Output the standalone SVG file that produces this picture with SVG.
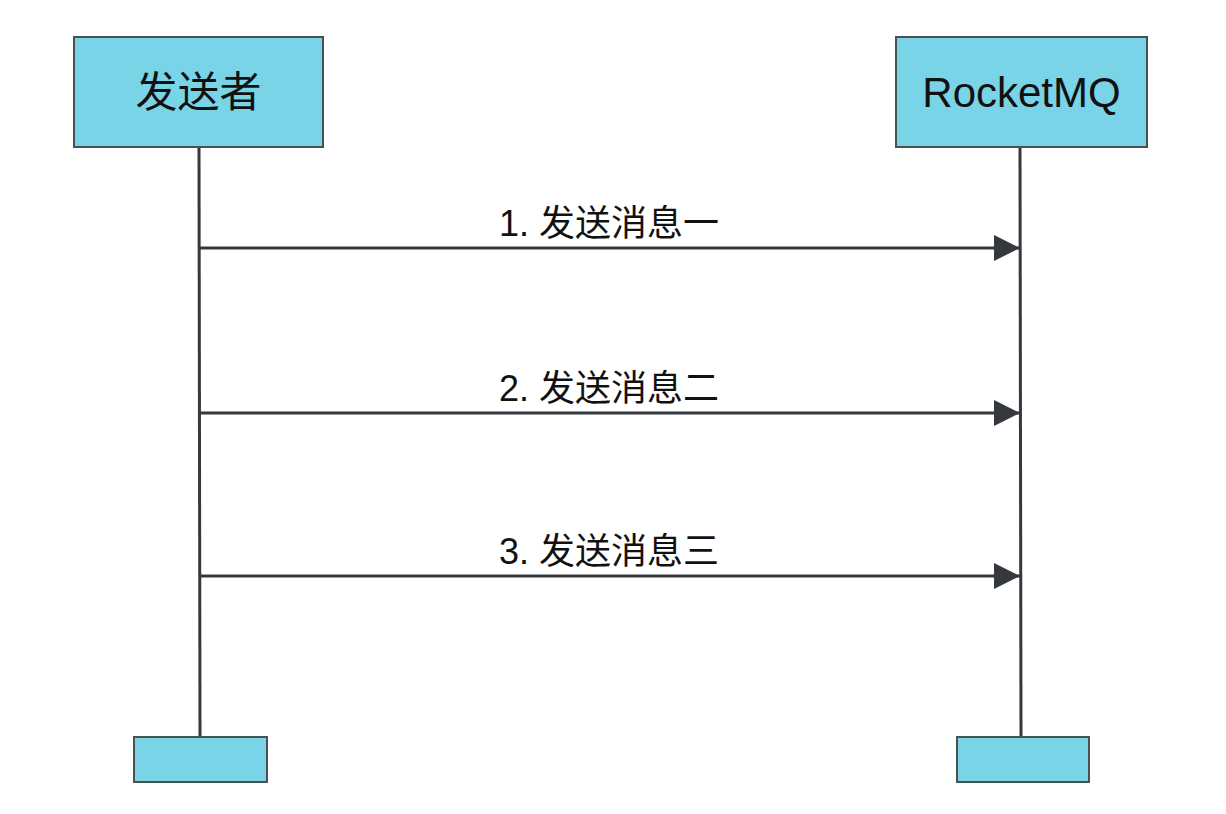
<svg xmlns="http://www.w3.org/2000/svg" width="1226" height="814" viewBox="0 0 1226 814">
<style>
.box{fill:#7AD4E8;stroke:#4B5055;stroke-width:2}
.life{stroke:#35393E;stroke-width:3;fill:none}
.msg{stroke:#35393E;stroke-width:3;fill:none}
.title{font-family:"Liberation Sans","Noto Sans CJK SC",sans-serif;font-size:42px;fill:#111;text-anchor:middle}
.lbl{font-family:"Liberation Sans","Noto Sans CJK SC",sans-serif;font-size:36px;fill:#111;text-anchor:middle}
</style>
<defs>
<marker id="ah" markerWidth="26" markerHeight="26" viewBox="0 0 26 26" refX="26" refY="13" orient="auto" markerUnits="userSpaceOnUse">
<path d="M0,0 L26,13 L0,26 Z" fill="#35393E"/>
</marker>
</defs>
<rect width="1226" height="814" fill="#fff"/>
<g id="connectors">
<line class="life" x1="199" y1="147" x2="200" y2="737"/>
<line class="life" x1="1020" y1="147" x2="1021" y2="737"/>
<line class="msg" x1="199" y1="248" x2="1020" y2="248" marker-end="url(#ah)"/>
<line class="msg" x1="199" y1="413" x2="1020" y2="413" marker-end="url(#ah)"/>
<line class="msg" x1="199" y1="576" x2="1020" y2="576" marker-end="url(#ah)"/>
<text class="lbl" x="609" y="236">1. 发送消息一</text>
<text class="lbl" x="609" y="401">2. 发送消息二</text>
<text class="lbl" x="609" y="564">3. 发送消息三</text>
</g>
<g id="sender">
<rect class="box" x="74" y="37" width="249" height="110"/>
<text class="title" x="198.5" y="107">发送者</text>
</g>
<g id="rocketmq">
<rect class="box" x="896" y="37" width="251" height="110"/>
<text class="title" x="1021.5" y="107">RocketMQ</text>
</g>
<g id="sender-end">
<rect class="box" x="134" y="737" width="133" height="45"/>
</g>
<g id="rocketmq-end">
<rect class="box" x="957" y="737" width="132" height="45"/>
</g>
</svg>
